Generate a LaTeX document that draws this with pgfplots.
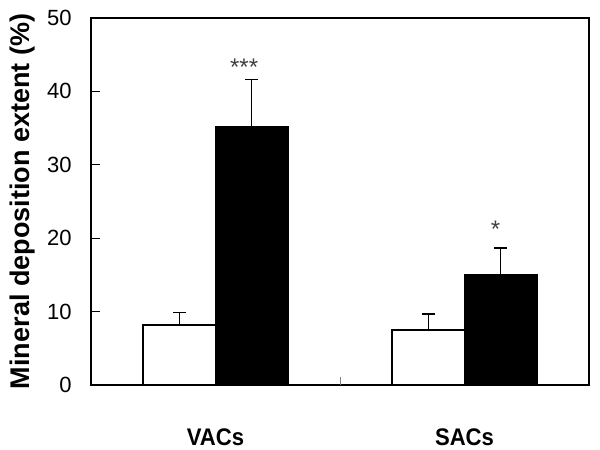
\documentclass[border=0pt]{standalone}
\usepackage{fontspec}
\setmainfont{Liberation Sans}
\usepackage{pgfplots}
\pgfplotsset{compat=1.18}

\begin{document}
\begin{tikzpicture}
\begin{axis}[
    name=ax,
    at={(0,0)}, anchor=south west,
    scale only axis,
    width=249pt, height=183.5pt,
    xmin=-0.5, xmax=1.5,
    ymin=0, ymax=50,
    ytick={0,10,...,50},
    xtick={0,1},
    xticklabels={VACs,SACs},
    ytick pos=left, xtick pos=bottom,
    tick align=inside,
    major tick length=4.5pt,
    major x tick style={draw=none},
    axis line style={line width=1pt},
    y tick style={black, line width=0.6pt},
    /pgf/number format/assume math mode=true,
    yticklabel style={font=\fontsize{11}{13}\selectfont, inner sep=0pt, xshift=-9.5pt},
    xticklabel style={font=\bfseries\fontsize{12}{13}\selectfont, xscale=0.92, inner sep=0pt, anchor=north, yshift=-17pt},
    ylabel={Mineral deposition extent (\%)},
    ylabel style={font=\bfseries\fontsize{13.5}{15}\selectfont, at={(axis description cs:-0.137,0.5)}, anchor=center},
    ybar, bar width=0.29,
    error bars/y dir=plus,
    error bars/y explicit,
    error bars/error bar style={line width=0.8pt, black},
    error bars/error mark options={rotate=90, mark size=3.2pt, line width=0.8pt, black},
]
\addplot[draw=black, fill=white, line width=0.8pt, bar shift=-0.145]
    coordinates {(0,8.2) +- (0,1.7) (1,7.5) +- (0,2.2)};
\addplot[draw=black, fill=black, line width=0.8pt, bar shift=0.145]
    coordinates {(0,35.2) +- (0,6.4) (1,15.0) +- (0,3.7)};
% separator tick between the two groups
\draw[gray, thin] (axis cs:0.5,0) -- (axis cs:0.5,1.1);
\node[font=\fontsize{12}{12}\selectfont, text=black!75] at (axis cs:0.115,43.3) {***};
\node[font=\fontsize{12}{12}\selectfont, text=black!75] at (axis cs:1.125,21.2) {*};
\end{axis}
\pgfresetboundingbox
\path (ax.south west) ++(-45.5pt,-32.5pt) rectangle ([shift={(5.5pt,9pt)}]ax.north east);
\end{tikzpicture}
\end{document}
